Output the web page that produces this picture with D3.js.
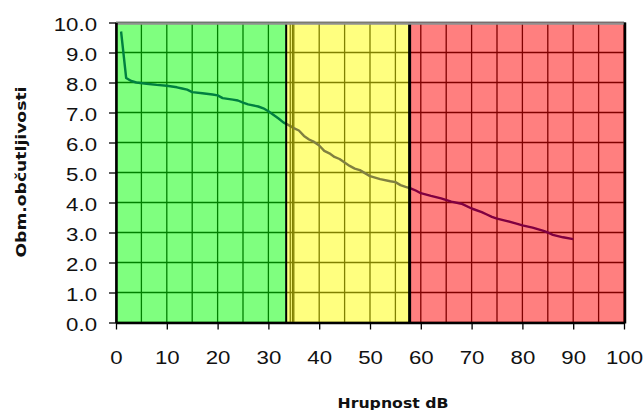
<!DOCTYPE html>
<html><head><meta charset="utf-8">
<script src="https://cdn.jsdelivr.net/npm/d3@7"></script>
<style>html,body{margin:0;padding:0;background:#fff;}svg{display:block;}</style>
</head><body>
<svg id="c" width="644" height="410"></svg>
<script>
// Data
const xVals = [1,2,3,4,6,8,10,12,13,14,15,17,19,20,21,23,24,25,26,28,29,30,32,33,34,35,36,37,38,39,40,41,42,43,44,45,46,47,48,49,50,52,54,55,56,57,58,59,60,62,64,66,68,70,72,73,74,75,77,79,80,82,84,85,86,88,90];
const yVals = [9.70,8.15,8.05,8.00,7.96,7.92,7.89,7.84,7.80,7.76,7.68,7.64,7.60,7.57,7.48,7.43,7.40,7.33,7.27,7.20,7.14,7.04,6.80,6.66,6.58,6.48,6.40,6.22,6.10,6.02,5.90,5.72,5.64,5.52,5.45,5.33,5.22,5.13,5.08,4.98,4.88,4.78,4.71,4.68,4.58,4.52,4.47,4.40,4.31,4.22,4.14,4.03,3.96,3.80,3.68,3.60,3.52,3.46,3.38,3.29,3.24,3.16,3.06,3.00,2.92,2.84,2.78];
const zoneStarts = [0, 33.5, 57.8];
const zoneEnds = [33.5, 57.8, 100];
const zoneColors = ["rgb(0,255,0)", "rgb(255,255,0)", "rgb(255,0,0)"];
const xTicks = [0,10,20,30,40,50,60,70,80,90,100];
const yTicks = [0,1,2,3,4,5,6,7,8,9,10];
const xGrid = d3.range(0, 101, 5);
const xTitle = "Hrupnost dB";
const yTitle = "Obm.občutljivosti";

const svg = d3.select("#c");
const x = d3.scaleLinear().domain([0,100]).range([116,624]);
const y = d3.scaleLinear().domain([0,10]).range([322.5,22.5]);
const SX = 1.27;

// gridlines
const g = svg.append("g");
g.selectAll(".vg").data(xGrid).join("line")
  .attr("x1", d=>x(d)).attr("x2", d=>x(d)).attr("y1", y(10)).attr("y2", y(0))
  .attr("stroke", "#000").attr("stroke-width", 1.3);
g.selectAll(".hg").data(yTicks).join("line")
  .attr("x1", x(0)).attr("x2", x(100)).attr("y1", d=>y(d)).attr("y2", d=>y(d))
  .attr("stroke", "#000").attr("stroke-width", 1.3);

// data line
const line = d3.line().x((d,i)=>x(xVals[i])).y(d=>y(d)).curve(d3.curveLinear);
g.append("path").datum(yVals).attr("d", line).attr("fill","none")
  .attr("stroke", "#000080").attr("stroke-width", 2.4).attr("stroke-linejoin","round");

// extra thin borders under yellow zone
[34.3, 34.75].forEach(v=>{
  g.append("line").attr("x1", x(v)).attr("x2", x(v)).attr("y1", y(10)).attr("y2", y(0))
   .attr("stroke","#000").attr("stroke-width",1.3);
});

// translucent zones
svg.append("g").selectAll("rect").data(zoneStarts).join("rect")
  .attr("x", d=>x(d)).attr("width", (d,i)=>x(zoneEnds[i])-x(d))
  .attr("y", y(10)).attr("height", y(0)-y(10))
  .attr("fill", (d,i)=>zoneColors[i]).attr("fill-opacity", 0.5);

// zone boundaries
svg.append("line").attr("x1", x(zoneEnds[0])).attr("x2", x(zoneEnds[0])).attr("y1", y(10)).attr("y2", y(0)).attr("stroke","#000").attr("stroke-width",2);
svg.append("line").attr("x1", x(zoneEnds[1])).attr("x2", x(zoneEnds[1])).attr("y1", y(10)).attr("y2", y(0)).attr("stroke","#000").attr("stroke-width",3);

// top border (gray) and right border (black)
svg.append("line").attr("x1", x(0)).attr("x2", x(100)+2).attr("y1", y(10)+1).attr("y2", y(10)+1).attr("stroke","#909090").attr("stroke-width",2.5);
svg.append("line").attr("x1", x(100)+1).attr("x2", x(100)+1).attr("y1", y(10)).attr("y2", y(0)+1).attr("stroke","#000").attr("stroke-width",2.5);

// axes
const yAxis = svg.append("g").attr("transform", `translate(${x(0)},0)`)
  .call(d3.axisLeft(y).tickValues(yTicks).tickFormat(d3.format(".1f")).tickSize(7).tickSizeOuter(0));
const xAxis = svg.append("g").attr("transform", `translate(0,${y(0)})`)
  .call(d3.axisBottom(x).tickValues(xTicks).tickFormat(d3.format("d")).tickSize(7).tickSizeOuter(0));
[yAxis, xAxis].forEach(a=>{
  a.select(".domain").attr("stroke","#000").attr("stroke-width",2.5);
  a.selectAll(".tick line").attr("stroke","#000").attr("stroke-width",1.3);
  a.selectAll("text").attr("font-family","'Liberation Sans', Arial, sans-serif")
    .attr("font-size",17.5).attr("fill","#111").attr("dy",null).attr("x",0).attr("y",0);
});
yAxis.selectAll("text").attr("text-anchor","end").attr("transform",`translate(-19,8) scale(${SX},1)`);
xAxis.selectAll("text").attr("text-anchor","middle").attr("transform",`translate(0,41) scale(${SX},1)`);

// titles
svg.append("text").attr("x", 393).attr("y", 408).attr("text-anchor","middle")
  .attr("font-family","'DejaVu Sans', Verdana, sans-serif").attr("font-weight","bold")
  .attr("font-size",13.5).attr("fill","#111")
  .attr("textLength",111).attr("lengthAdjust","spacingAndGlyphs").text(xTitle);
svg.append("text").attr("transform","translate(26,172) rotate(-90)").attr("text-anchor","middle")
  .attr("font-family","'DejaVu Sans', Verdana, sans-serif").attr("font-weight","bold")
  .attr("font-size",13.5).attr("fill","#111")
  .attr("textLength",171).attr("lengthAdjust","spacingAndGlyphs").text(yTitle);
</script>
</body></html>
